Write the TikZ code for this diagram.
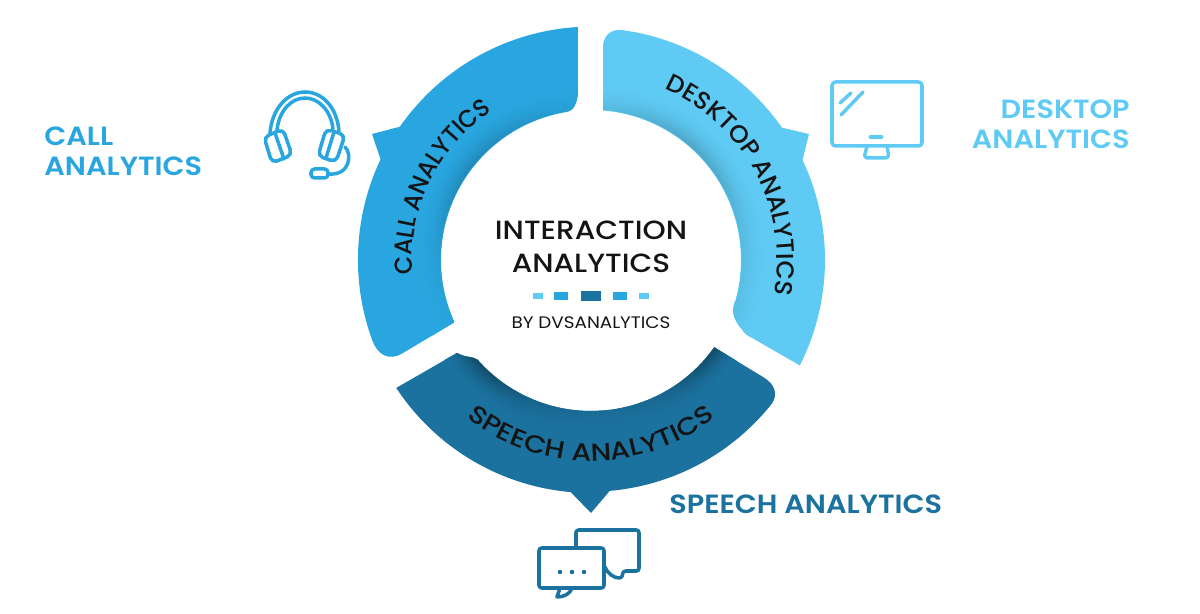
\documentclass[tikz,border=0pt]{standalone}
\usepackage{fontspec}
\setmainfont{Poppins}[FakeStretch=1.1]
\newfontfamily\medfont{Poppins Medium}[FakeStretch=1.12]
\newfontfamily\arcfont{Poppins Medium}[FakeStretch=1.02]
\newfontfamily\arcslimfont{Poppins Medium}[FakeStretch=0.97]
\newfontfamily\arcwidefont{Poppins Medium}[FakeStretch=1.17]
\newfontfamily\headfont{Poppins SemiBold}[FakeStretch=1.09]
\usepackage{tikz}
\usetikzlibrary{decorations.text,positioning}

\definecolor{callblue}{HTML}{29A6E0}
\definecolor{deskblue}{HTML}{5FCAF3}
\definecolor{speechblue}{HTML}{1B729F}
\definecolor{inkblack}{HTML}{141414}

\tikzset{
	icon/.style={line width=2pt, line join=round, line cap=round},
	headline/.style={inner sep=0pt, font=\headfont\fontsize{15}{17}\selectfont},
	title/.style={text=inkblack, inner sep=0pt, font=\medfont\fontsize{15}{18.7}\selectfont, align=center},
	marker/.style={inner sep=0pt, minimum width=#1}
}

\newcommand{\callshape}{(93.2:234) -- (-13,170) .. controls (-13,157) and (-18,149) .. (99.4:150) arc[start angle=99.4, end angle=204.5, radius=150] -- (-188,-93) .. controls (-203,-102) and (-214,-94) .. (200:233) arc[start angle=200, end angle=154.6, radius=234] -- (-219,126) -- (145.1:233) arc[start angle=145.1, end angle=93.2, radius=234] -- cycle}
\newcommand{\deskshape}{(85.4:150) -- (12,213) .. controls (12,224) and (20,232) .. (82:232) arc[start angle=82, end angle=34.9, radius=233] -- (218,126) -- (25.3:234) arc[start angle=25.3, end angle=-26.8, radius=234] -- (156,-75) .. controls (145,-64) and (138,-52) .. (-15.4:150) arc[start angle=-15.4, end angle=85.4, radius=150] -- cycle}
\newcommand{\speechshape}{(213.3:233) -- (-134,-93) .. controls (-125,-98) and (-119,-96) .. (221.3:151) arc[start angle=221.3, end angle=324.7, radius=151] -- (172,-117) .. controls (184,-124) and (187,-134) .. (321.7:231) arc[start angle=321.7, end angle=275, radius=233] -- (0,-253) -- (265:233) arc[start angle=265, end angle=213.3, radius=233] -- cycle}

% darker band along the inner edge of a ring part
\newcommand{\innerglow}[7]{
	\foreach \i in {0,...,40}{
		\pgfmathsetmacro{\a}{#1+(#2-#1)*\i/40}
		\foreach \r in {176,174,...,152}{
			\pgfmathsetmacro{\p}{(#5+#6*exp(-((\a-#3)/#4)^2))*((178-\r)/28)^2}
			\draw[line width=1.6pt, color=black!\p!#7] (\a:\r) arc[start angle=\a, delta angle=(#2-#1)/38, radius=\r];
		}
	}
}

\begin{document}
\begin{tikzpicture}[x=0.02cm, y=0.02cm]
	\useasboundingbox (-591,-354) rectangle (609,260);
	
	\fill[callblue] \callshape;
	\begin{scope}
		\clip \callshape;
		\innerglow{90}{215}{140}{32}{2}{17}{callblue}
	\end{scope}
	\fill[deskblue] \deskshape;
	\begin{scope}
		\clip \deskshape;
		\innerglow{-35}{95}{45}{30}{6}{13}{deskblue}
	\end{scope}
	\fill[speechblue] \speechshape;
	\begin{scope}
		\clip \speechshape;
		\innerglow{200}{272}{222}{22}{6}{32}{speechblue}
		\innerglow{272}{340}{325}{22}{6}{32}{speechblue}
	\end{scope}
	
	\path[decorate, decoration={text along path, text align=center, text={|\color{inkblack}\arcslimfont\fontsize{14}{16}\selectfont|CALL ANALYTICS}}] (186:179) arc[start angle=186, end angle=122, radius=179];
	\path[decorate, decoration={text along path, text align=center, text={|\color{inkblack}\arcfont\fontsize{14}{16}\selectfont|DESKTOP ANALYTICS}}] (69:186) arc[start angle=69, end angle=-13, radius=186];
	\path[decorate, decoration={text along path, text align=center, text={|\color{inkblack}\arcwidefont\fontsize{14}{16}\selectfont|SPEECH ANALYTICS}}] (228:201) arc[start angle=228, end angle=312, radius=201];
	
	\begin{scope}[shift={(-591,260)}, yscale=-1]
		\node[title] (Title) at (591,247) {INTERACTION\\ANALYTICS};
		\node[title, font=\fontsize{9.5}{11}\selectfont] (By) at (591,323) {BY DVSANALYTICS};
		\node[marker=11.3pt, minimum height=6pt, fill=speechblue] (MarkMid) at (591,296) {};
		\node[marker=8pt, minimum height=4.2pt, fill=callblue] (MarkL) at (561,296) {};
		\node[marker=8pt, minimum height=4.2pt, fill=callblue] (MarkR) at (620,296) {};
		\node[marker=6pt, minimum height=3.2pt, fill=deskblue] (MarkLL) at (538,296) {};
		\node[marker=6pt, minimum height=3.2pt, fill=deskblue] (MarkRR) at (644,296) {};
		
		\node[headline, text=callblue, anchor=west, align=left] (CallLabel) at (44,151) {CALL\\ANALYTICS};
		\node[headline, text=deskblue, anchor=east, align=right] (DeskLabel) at (1130,124) {DESKTOP\\ANALYTICS};
		\node[headline, text=speechblue, anchor=west] (SpeechLabel) at (669,504) {SPEECH ANALYTICS};
		
		% headset
		\begin{scope}[icon, draw=callblue]
			\draw (270,133) .. controls (272,108) and (288,92) .. (305,92) .. controls (323,92) and (337,108) .. (339,131);
			\draw (277,130) .. controls (279,111) and (291,98) .. (305,98) .. controls (319,98) and (331,111) .. (333,129);
			\draw[rounded corners=3] (264,137) -- (283,129) -- (292,155) -- (272,163) -- cycle;
			\draw (275,133) -- (284,159);
			\draw[rounded corners=3] (326,129) -- (345,135) -- (336,162) -- (318,156) -- cycle;
			\draw (334,132) -- (326,158);
			\draw (345,147) .. controls (352,153) and (351,176) .. (328,174);
			\draw[rounded corners=2] (311,169) rectangle (328,178);
		\end{scope}
		
		% monitor
		\begin{scope}[icon, draw=deskblue]
			\draw[rounded corners=2] (832,82) rectangle (922,146);
			\draw (840,103) -- (851,93);
			\draw (841,115) -- (863,92);
			\draw[line width=2.8pt] (871,137) -- (881,137);
			\draw[rounded corners=2] (867,146) -- (864,158) -- (889,158) -- (887,146);
		\end{scope}
		
		% bubbles
		\begin{scope}[icon, draw=speechblue, fill=speechblue]
			\draw[fill=none, rounded corners=1.5] (576,548) -- (576,530) -- (639,530) -- (639,571) -- (623,571) -- (622,578) .. controls (614,578) and (608,574) .. (605,567);
			\draw[fill=none, rounded corners=1.5] (539,548) rectangle (604,588);
			\draw[fill=none] (572,588) .. controls (570,594) and (564,597) .. (557,597) -- (560,588);
			\fill (560,572) circle (2.3);
			\fill (572,572) circle (2.3);
			\fill (584,572) circle (2.3);
		\end{scope}
	\end{scope}
\end{tikzpicture}
\end{document}
